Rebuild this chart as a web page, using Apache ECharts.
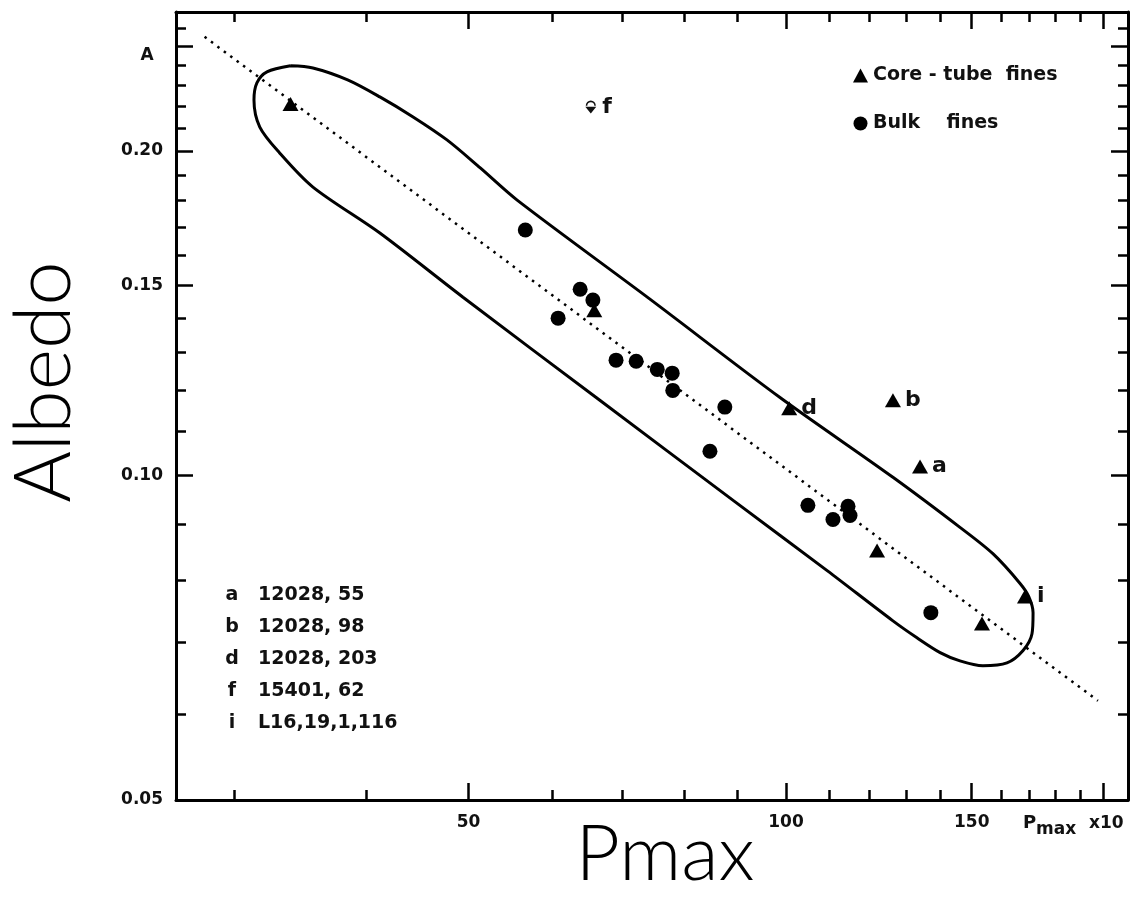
<!DOCTYPE html>
<html>
<head>
<meta charset="utf-8">
<script src="https://cdn.jsdelivr.net/npm/echarts@6/dist/echarts.min.js"></script>
<style>
html,body{margin:0;padding:0;background:#fff;}
#chart{width:1131px;height:913px;}
</style>
</head>
<body>
<div id="chart"></div>
<script>
// ---------- data ----------
const corePmax   = [33.9, 65.8, 100.7, 126.3, 134.0, 122.0, 168.5, 153.4];
const coreAlbedo = [0.221, 0.1423, 0.1154, 0.1174, 0.1019, 0.0852, 0.0772, 0.0729];
const coreLabels = ['', '', 'd', 'b', 'a', '', 'i', ''];

const bulkPmax   = [56.6, 63.8, 65.6, 60.8, 69.0, 72.1, 75.5, 78.0, 78.1, 87.5, 84.7, 104.9, 110.8, 114.5, 115.0, 137.2];
const bulkAlbedo = [0.1689, 0.1488, 0.1454, 0.1399, 0.1279, 0.1276, 0.1254, 0.1244, 0.1199, 0.1157, 0.1053, 0.0938, 0.0910, 0.0936, 0.0918, 0.0746];

const otherPmax   = [65.3];
const otherAlbedo = [0.2196];
const otherLabels = ['f'];

const trendPmax   = [28.1, 197.6];
const trendAlbedo = [0.2551, 0.0618];

const outlinePmax = [33.9, 35.6, 38.4, 41.2, 44.3, 47.7, 51.3, 55.6, 74.3, 98.7, 126.3, 146.2, 157.1, 166.7, 169.9, 171.5, 171.1, 167.8, 162.0, 153.7, 146.2, 140.0, 133.1, 126.3, 109.4, 89.1, 66.6, 49.4, 41.2, 35.6, 33.1, 31.7, 31.3, 31.5, 32.2, 33.9];
const outlineAlbedo = [0.2398, 0.2387, 0.2327, 0.2244, 0.2150, 0.2047, 0.1928, 0.1800, 0.1457, 0.1181, 0.0996, 0.0895, 0.0846, 0.0794, 0.0772, 0.0746, 0.0713, 0.0688, 0.0670, 0.0666, 0.0673, 0.0685, 0.0707, 0.0733, 0.0816, 0.0948, 0.1174, 0.1463, 0.1678, 0.1851, 0.1991, 0.2104, 0.2229, 0.2312, 0.2367, 0.2398];

const xMajorTicks = [50, 100, 150, 200];
const xMinorTicks = [30, 40, 60, 70, 80, 90, 110, 120, 130, 140, 160, 170, 180, 190];
const xLabelValues = [50, 100, 150];
const xTickLabels  = ['50', '100', '150'];

const yMajorTicks = [0.05, 0.10, 0.15, 0.20, 0.25];
const yMinorTicks = [0.06, 0.07, 0.08, 0.09, 0.11, 0.12, 0.13, 0.14, 0.16, 0.17, 0.18, 0.19, 0.21, 0.22, 0.23, 0.24, 0.26];
const yLabelValues = [0.05, 0.10, 0.15, 0.20];
const yTickLabels  = ['0.05', '0.10', '0.15', '0.20'];

const xRange = [26.4, 211];
const yRange = [0.05, 0.269];

const sampleKeys = ['a', 'b', 'd', 'f', 'i'];
const sampleIds  = ['12028, 55', '12028, 98', '12028, 203', '15401, 62', 'L16,19,1,116'];

const coreName = 'Core - tube  fines';
const bulkName = 'Bulk    fines';

// ---------- helpers ----------
const L = Math.log10;
const pairs = (xs, ys) => xs.map((x, i) => [L(x), L(ys[i])]);
const lookup = (vals, labels) => v => {
  let best = 0, bd = Infinity;
  vals.forEach((t, i) => { const d = Math.abs(L(t) - v); if (d < bd) { bd = d; best = i; } });
  return labels[best];
};

const TICK_FONT = {fontFamily: 'DejaVu Sans', fontWeight: 'bold', fontSize: 17, color: '#111'};
const lineSt = {color: '#000', width: 3};
const tickSt = {color: '#000', width: 2.5};

function xAxisDef(pos, ticks, len, showLine, labels) {
  return {
    type: 'value', position: pos, min: L(xRange[0]), max: L(xRange[1]),
    splitLine: {show: false},
    axisLine: {show: showLine, onZero: false, lineStyle: lineSt},
    axisTick: {show: true, inside: true, length: len, lineStyle: tickSt, customValues: ticks.map(L)},
    axisLabel: labels ? Object.assign({show: true, margin: 14, customValues: xLabelValues.map(L),
      formatter: lookup(xLabelValues, xTickLabels)}, TICK_FONT) : {show: false}
  };
}
function yAxisDef(pos, ticks, len, showLine, labels) {
  return {
    type: 'value', position: pos, min: L(yRange[0]), max: L(yRange[1]),
    splitLine: {show: false},
    axisLine: {show: showLine, onZero: false, lineStyle: lineSt},
    axisTick: {show: true, inside: true, length: len, lineStyle: tickSt, customValues: ticks.map(L)},
    axisLabel: labels ? Object.assign({show: true, margin: 13, customValues: yLabelValues.map(L),
      formatter: lookup(yLabelValues, yTickLabels)}, TICK_FONT) : {show: false}
  };
}

const fSymbol = 'path://M0,7 L12,7 L6,14 Z M0.5,6 A5.5,5.5 0 0 1 11.5,6 L9.8,6 A3.8,3.8 0 0 0 2.2,6 Z';

const graphics = [];
sampleKeys.forEach((k, i) => {
  graphics.push({type: 'text', x: 232, y: 595 + i * 32, style: {text: k, textAlign: 'center', textVerticalAlign: 'middle',
    fontFamily: 'DejaVu Sans', fontWeight: 'bold', fontSize: 19, fill: '#111'}});
  graphics.push({type: 'text', x: 258, y: 595 + i * 32, style: {text: sampleIds[i], textAlign: 'left', textVerticalAlign: 'middle',
    fontFamily: 'DejaVu Sans', fontWeight: 'bold', fontSize: 19, fill: '#111'}});
});
graphics.push({type: 'text', x: 147, y: 56, style: {text: 'A', textAlign: 'center', textVerticalAlign: 'middle',
  fontFamily: 'DejaVu Sans', fontWeight: 'bold', fontSize: 17, fill: '#111'}});
graphics.push({type: 'text', x: 1023, y: 814, style: {text: 'P', textAlign: 'left', textVerticalAlign: 'top',
  fontFamily: 'DejaVu Sans', fontWeight: 'bold', fontSize: 18, fill: '#111'}});
graphics.push({type: 'text', x: 1036, y: 821, style: {text: 'max', textAlign: 'left', textVerticalAlign: 'top',
  fontFamily: 'DejaVu Sans', fontWeight: 'bold', fontSize: 17, fill: '#111'}});
graphics.push({type: 'text', x: 1089, y: 815, style: {text: 'x10', textAlign: 'left', textVerticalAlign: 'top',
  fontFamily: 'DejaVu Sans', fontWeight: 'bold', fontSize: 17, fill: '#111'}});
graphics.push({type: 'text', x: 45, y: 382, rotation: Math.PI / 2, style: {text: 'Albedo', textAlign: 'center', textVerticalAlign: 'middle',
  fontFamily: 'Lato', fontWeight: 300, fontSize: 79, fill: '#000'}});
graphics.push({type: 'text', x: 665, y: 855, style: {text: 'Pmax', textAlign: 'center', textVerticalAlign: 'middle',
  fontFamily: 'Lato', fontWeight: 300, fontSize: 77, fill: '#000'}});

const option = {
  animation: false,
  backgroundColor: '#fff',
  grid: {left: 176, right: 3, top: 12, bottom: 113, containLabel: false},
  xAxis: [
    xAxisDef('bottom', xMajorTicks, 17, true, true),
    xAxisDef('bottom', xMinorTicks, 10, false, false),
    xAxisDef('top', xMajorTicks, 17, true, false),
    xAxisDef('top', xMinorTicks, 10, false, false)
  ],
  yAxis: [
    yAxisDef('left', yMajorTicks, 17, true, true),
    yAxisDef('left', yMinorTicks, 10, false, false),
    yAxisDef('right', yMajorTicks, 17, true, false),
    yAxisDef('right', yMinorTicks, 10, false, false)
  ],
  legend: {
    orient: 'vertical', left: 848, top: 61, itemWidth: 15, itemHeight: 14, itemGap: 29,
    selectedMode: false, data: [coreName, bulkName],
    itemStyle: {opacity: 1},
    textStyle: {fontFamily: 'DejaVu Sans', fontWeight: 'bold', fontSize: 19, color: '#111'}
  },
  graphic: graphics,
  series: [
    {
      type: 'line', name: 'outline', data: pairs(outlinePmax, outlineAlbedo),
      smooth: 0.3, showSymbol: false, symbol: 'none', silent: true, z: 1,
      lineStyle: {color: '#000', width: 3}
    },
    {
      type: 'line', name: 'trend', data: pairs(trendPmax, trendAlbedo),
      showSymbol: false, symbol: 'none', silent: true, z: 1,
      lineStyle: {color: '#000', width: 2.5, type: [2.5, 5.5]}
    },
    {
      type: 'scatter', name: coreName, data: pairs(corePmax, coreAlbedo), z: 3,
      symbol: 'triangle', symbolSize: [16, 14], itemStyle: {color: '#000', opacity: 1},
      label: {show: true, position: 'right', distance: 4, formatter: p => coreLabels[p.dataIndex],
        fontFamily: 'DejaVu Sans', fontWeight: 'bold', fontSize: 22, color: '#111'}
    },
    {
      type: 'scatter', name: bulkName, data: pairs(bulkPmax, bulkAlbedo), z: 3,
      symbol: 'circle', symbolSize: 15, itemStyle: {color: '#000', opacity: 1}
    },
    {
      type: 'scatter', name: 'other', data: pairs(otherPmax, otherAlbedo), z: 3,
      symbol: fSymbol, symbolSize: [11, 13], itemStyle: {color: '#111', opacity: 1},
      label: {show: true, position: 'right', distance: 6, formatter: p => otherLabels[p.dataIndex],
        fontFamily: 'DejaVu Sans', fontWeight: 'bold', fontSize: 22, color: '#111'}
    }
  ]
};

const chart = echarts.init(document.getElementById('chart'), null, {renderer: 'canvas'});
chart.setOption(option);
</script>
</body>
</html>
